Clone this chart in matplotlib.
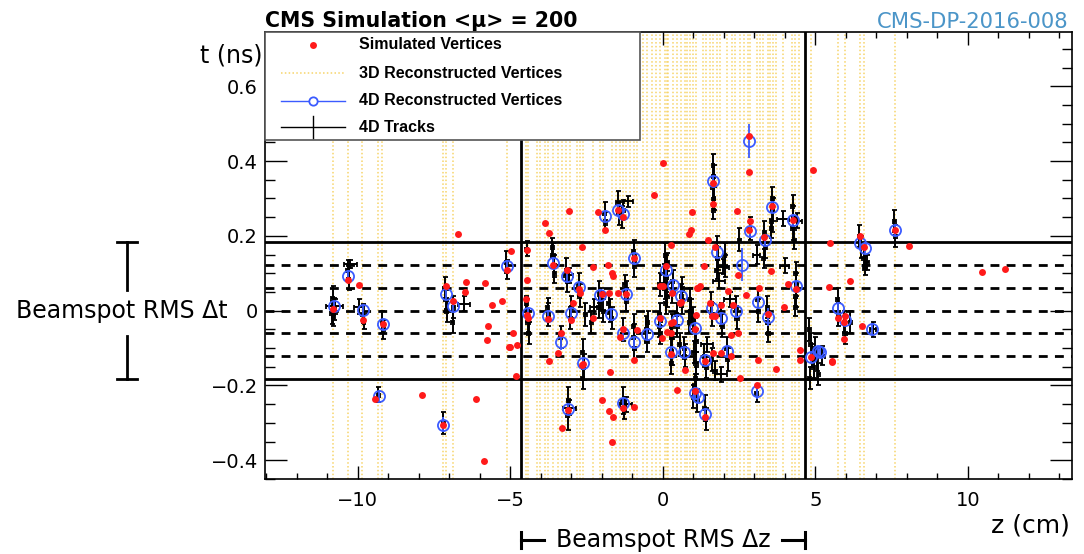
import matplotlib.pyplot as plt
import matplotlib.transforms as mtransforms
import numpy as np
from matplotlib.lines import Line2D
from matplotlib.patches import Rectangle
from matplotlib.ticker import FuncFormatter, MultipleLocator

# simulated vertices: (z [cm], t [ns])
sim_vertices = np.array([
    (-10.80, 0.005), (-10.31, 0.083), (-9.96, 0.068), (-9.82, -0.024), (-9.18, -0.036),
    (-9.43, -0.235), (-7.90, -0.226), (-7.20, -0.305), (-6.12, -0.236), (-5.86, -0.403),
    (-6.70, 0.206), (-7.12, 0.065), (-6.87, 0.025), (-6.46, 0.077), (-6.50, 0.049),
    (-5.83, 0.074), (-5.61, 0.016), (-5.72, -0.042), (-5.77, -0.079), (-5.26, 0.027),
    (-5.12, 0.110), (-4.99, 0.159), (-5.03, -0.097), (-4.79, -0.093), (-4.81, -0.174),
    (-4.46, 0.163), (-4.46, 0.083), (-4.49, 0.030), (-4.41, -0.020), (-4.92, -0.060),
    (-3.86, 0.234), (-3.74, 0.208), (-3.59, 0.122), (-3.76, -0.022), (-3.72, -0.135),
    (-3.09, 0.266), (-2.11, 0.265), (-1.89, 0.217), (-1.46, 0.270), (-1.32, 0.250),
    (-2.64, 0.169), (-3.15, 0.110), (-2.74, 0.058), (-2.72, 0.047), (-2.28, 0.116),
    (-1.79, 0.123), (-1.67, 0.101), (-1.65, 0.092), (-0.94, 0.140), (-2.01, 0.045),
    (-1.77, 0.047), (-1.46, 0.047), (-1.21, 0.045), (0.10, 0.120), (0.30, 0.048),
    (0.59, 0.023), (0.28, 0.176), (-0.10, 0.065), (0.01, 0.065), (1.16, 0.061),
    (-2.94, 0.020), (0.01, 0.395), (-0.28, 0.308), (0.97, 0.263), (0.91, 0.215),
    (0.85, 0.205), (2.83, 0.468), (2.83, 0.371), (4.92, 0.377), (1.65, 0.340),
    (1.63, 0.286), (2.43, 0.266), (2.85, 0.239), (2.82, 0.215), (3.59, 0.280),
    (4.27, 0.243), (3.31, 0.197), (1.72, 0.170), (1.48, 0.190), (2.47, 0.096),
    (1.34, 0.120), (3.56, 0.105), (4.36, 0.058), (6.45, 0.199), (6.60, 0.170),
    (5.49, 0.181), (6.13, 0.078), (5.45, 0.062), (3.15, 0.061), (1.12, 0.061),
    (3.97, 0.009), (7.62, 0.215), (8.07, 0.172), (10.46, 0.103), (11.22, 0.112),
    (5.74, -0.019), (5.96, -0.015), (5.95, -0.030), (5.95, -0.075), (6.54, -0.042),
    (5.53, -0.136), (3.43, -0.008), (2.30, 0.016), (1.92, 0.016), (1.54, 0.020),
    (1.60, -0.013), (1.70, -0.015), (1.10, -0.011), (1.06, -0.050), (2.22, -0.066),
    (2.47, -0.060), (1.39, -0.134), (1.65, -0.113), (1.92, -0.113), (2.24, -0.122),
    (3.12, -0.131), (3.72, -0.155), (2.52, -0.180), (4.84, -0.124), (4.49, -0.104),
    (4.49, -0.131), (5.56, -0.134), (1.04, -0.215), (1.38, -0.284), (3.07, -0.200),
    (-4.44, -0.011), (-3.01, -0.024), (-2.28, -0.020), (-5.01, -0.098), (-3.34, -0.060),
    (-3.45, -0.113), (-2.65, -0.145), (-2.61, -0.142), (-1.30, -0.050), (-1.42, -0.070),
    (-1.74, -0.164), (-0.94, -0.131), (-0.86, -0.053), (-0.10, -0.020), (-0.02, -0.073),
    (0.28, -0.033), (0.34, -0.029), (0.56, 0.020), (0.12, -0.057), (0.28, -0.060),
    (0.28, -0.117), (0.71, -0.158), (0.45, -0.211), (-3.10, -0.265), (-3.30, -0.314),
    (-1.30, -0.260), (-2.01, -0.238), (-1.77, -0.267), (-1.64, -0.283), (-0.95, -0.258),
    (-1.68, -0.352), (1.21, 0.065), (2.74, 0.043), (2.14, 0.052), (4.10, 0.070),
])

# 4D reconstructed vertices: (z, t, sigma_t)
vertices_4d = np.array([
    (-10.78, 0.012, 0.015), (-10.31, 0.094, 0.015), (-9.82, 0.001, 0.015), (-9.18, -0.036, 0.015),
    (-9.30, -0.229, 0.015), (-7.20, -0.305, 0.020), (-7.12, 0.045, 0.015), (-6.87, 0.013, 0.015),
    (-5.12, 0.120, 0.015), (-4.41, -0.006, 0.015), (-3.59, 0.128, 0.015), (-3.76, -0.013, 0.015),
    (-3.15, 0.092, 0.015), (-2.74, 0.062, 0.015), (-3.34, -0.084, 0.020), (-3.01, -0.006, 0.015),
    (-2.61, -0.140, 0.015), (-3.10, -0.262, 0.015), (-2.06, 0.042, 0.015), (-1.89, 0.254, 0.015),
    (-1.46, 0.268, 0.015), (-1.32, 0.259, 0.015), (-1.21, 0.045, 0.015), (-1.70, -0.008, 0.015),
    (-1.30, -0.060, 0.020), (-1.30, -0.247, 0.015), (-0.94, 0.140, 0.015), (-0.94, -0.084, 0.015),
    (-0.53, -0.062, 0.015), (0.10, 0.110, 0.015), (-0.10, -0.027, 0.015), (0.32, 0.068, 0.015),
    (0.61, 0.038, 0.015), (0.45, -0.026, 0.015), (0.28, -0.111, 0.015), (0.70, -0.110, 0.015),
    (1.05, -0.046, 0.015), (1.05, -0.220, 0.015), (1.16, -0.231, 0.015), (1.38, -0.275, 0.015),
    (1.38, -0.131, 0.015), (2.11, -0.109, 0.015), (1.60, 0.007, 0.015), (1.92, -0.020, 0.015),
    (2.41, -0.002, 0.015), (1.65, 0.346, 0.015), (1.78, 0.156, 0.015), (2.60, 0.123, 0.045),
    (2.87, 0.212, 0.015), (2.83, 0.453, 0.045), (3.34, 0.190, 0.015), (3.59, 0.277, 0.015),
    (4.27, 0.243, 0.015), (4.36, 0.065, 0.015), (5.09, -0.109, 0.015), (4.84, -0.124, 0.015),
    (6.45, 0.181, 0.015), (6.62, 0.168, 0.015), (7.60, 0.215, 0.015), (5.74, 0.007, 0.015),
    (5.96, -0.026, 0.015), (6.87, -0.049, 0.015), (3.43, -0.017, 0.025), (3.12, 0.023, 0.015),
    (3.07, -0.216, 0.020), (5.14, -0.111, 0.015),
])

# 4D tracks: (z, t, sigma_z, sigma_t)
tracks_4d = np.array([
    (-10.82, 0.035, 0.05, 0.03), (-10.77, 0.005, 0.06, 0.03), (-10.80, -0.015, 0.04, 0.025),
    (-10.76, 0.012, 0.28, 0.02), (-10.84, -0.005, 0.08, 0.03),
    (-10.33, 0.110, 0.05, 0.025), (-10.29, 0.085, 0.05, 0.03), (-10.24, 0.125, 0.20, 0.01),
    (-9.96, 0.010, 0.15, 0.02), (-9.83, -0.008, 0.05, 0.025), (-9.80, -0.030, 0.04, 0.02),
    (-9.20, -0.030, 0.05, 0.03), (-9.16, -0.050, 0.05, 0.025), (-9.32, -0.225, 0.04, 0.02),
    (-7.20, -0.300, 0.05, 0.03),
    (-7.15, 0.060, 0.05, 0.03), (-7.10, 0.030, 0.06, 0.025), (-7.08, 0.000, 0.05, 0.03),
    (-6.87, 0.010, 0.05, 0.03), (-6.88, -0.030, 0.05, 0.03), (-6.52, 0.019, 0.20, 0.02),
    (-5.13, 0.130, 0.05, 0.03), (-5.10, 0.110, 0.05, 0.025),
    (-4.45, 0.000, 0.05, 0.03), (-4.42, -0.030, 0.05, 0.03), (-4.40, -0.060, 0.05, 0.03),
    (-4.47, 0.020, 0.04, 0.02), (-4.46, 0.165, 0.05, 0.02),
    (-3.60, 0.150, 0.05, 0.03), (-3.58, 0.120, 0.05, 0.03), (-3.62, 0.170, 0.04, 0.025),
    (-3.56, 0.100, 0.05, 0.025), (-3.76, -0.010, 0.05, 0.03), (-3.78, 0.010, 0.04, 0.025),
    (-3.17, 0.110, 0.05, 0.03), (-3.14, 0.080, 0.05, 0.03), (-3.08, 0.095, 0.15, 0.02),
    (-3.34, -0.070, 0.05, 0.03), (-3.00, 0.010, 0.05, 0.03), (-3.03, -0.020, 0.05, 0.03),
    (-2.75, 0.070, 0.05, 0.03), (-2.72, 0.040, 0.05, 0.03),
    (-2.62, -0.110, 0.05, 0.035), (-2.60, -0.150, 0.05, 0.035), (-2.63, -0.180, 0.04, 0.03),
    (-3.10, -0.240, 0.05, 0.035), (-3.12, -0.280, 0.05, 0.04), (-3.06, -0.260, 0.20, 0.02),
    (-2.08, 0.050, 0.05, 0.03), (-2.04, 0.030, 0.05, 0.03), (-2.10, 0.010, 0.05, 0.03),
    (-1.95, 0.000, 0.05, 0.03), (-2.55, -0.010, 0.05, 0.03), (-2.35, -0.030, 0.05, 0.03),
    (-2.25, 0.010, 0.15, 0.02),
    (-1.90, 0.260, 0.05, 0.03), (-1.88, 0.240, 0.05, 0.025),
    (-1.47, 0.290, 0.05, 0.03), (-1.44, 0.260, 0.05, 0.03), (-1.33, 0.250, 0.05, 0.03),
    (-1.30, 0.270, 0.05, 0.025), (-1.13, 0.292, 0.15, 0.015),
    (-1.22, 0.050, 0.05, 0.03), (-1.20, 0.030, 0.05, 0.03), (-1.24, 0.070, 0.05, 0.025),
    (-1.72, 0.000, 0.05, 0.03), (-1.68, -0.020, 0.05, 0.03), (-1.78, 0.020, 0.06, 0.03),
    (-1.30, -0.050, 0.05, 0.03),
    (-1.31, -0.240, 0.05, 0.035), (-1.28, -0.260, 0.05, 0.03), (-1.22, -0.250, 0.20, 0.02),
    (-0.95, 0.160, 0.05, 0.03), (-0.93, 0.120, 0.05, 0.03),
    (-0.95, -0.070, 0.05, 0.035), (-0.93, -0.100, 0.05, 0.03), (-0.96, -0.040, 0.05, 0.03),
    (-0.54, -0.050, 0.05, 0.035), (-0.52, -0.080, 0.05, 0.03), (-0.50, -0.030, 0.05, 0.03),
    (0.08, 0.150, 0.05, 0.03), (0.10, 0.120, 0.05, 0.03), (0.12, 0.090, 0.05, 0.03),
    (0.06, 0.060, 0.05, 0.03), (0.14, 0.040, 0.05, 0.03), (0.10, 0.020, 0.05, 0.03),
    (0.05, 0.100, 0.10, 0.025), (0.15, 0.130, 0.05, 0.025), (-0.10, 0.070, 0.05, 0.03),
    (-0.10, -0.010, 0.05, 0.03), (-0.12, -0.040, 0.05, 0.03), (-0.08, -0.060, 0.05, 0.03),
    (0.33, 0.080, 0.05, 0.03), (0.31, 0.050, 0.05, 0.03), (0.60, 0.040, 0.05, 0.03),
    (0.62, 0.020, 0.05, 0.03), (0.63, 0.060, 0.05, 0.03),
    (0.45, -0.010, 0.05, 0.03), (0.47, -0.040, 0.05, 0.03),
    (0.27, -0.070, 0.05, 0.035), (0.29, -0.110, 0.05, 0.035), (0.28, -0.140, 0.05, 0.03),
    (0.30, -0.040, 0.05, 0.03), (0.70, -0.100, 0.05, 0.03), (0.72, -0.120, 0.05, 0.03),
    (0.55, -0.090, 0.05, 0.03), (0.88, 0.030, 0.05, 0.03), (0.92, 0.000, 0.05, 0.03),
    (0.86, -0.030, 0.05, 0.03),
    (1.00, -0.020, 0.05, 0.03), (1.05, -0.050, 0.05, 0.03), (1.10, -0.080, 0.05, 0.03),
    (1.02, -0.110, 0.05, 0.03), (1.08, -0.140, 0.06, 0.03), (1.05, -0.200, 0.05, 0.03),
    (1.00, -0.230, 0.05, 0.03), (1.12, -0.240, 0.05, 0.03), (1.08, -0.180, 0.05, 0.03),
    (1.38, -0.260, 0.05, 0.035), (1.40, -0.290, 0.05, 0.03),
    (1.35, -0.120, 0.05, 0.03), (1.42, -0.150, 0.05, 0.03), (1.45, -0.090, 0.20, 0.02),
    (1.60, -0.130, 0.05, 0.03), (1.70, -0.160, 0.06, 0.025), (2.10, -0.100, 0.05, 0.03),
    (2.12, -0.130, 0.05, 0.03), (1.90, -0.170, 0.20, 0.02),
    (1.58, 0.020, 0.05, 0.03), (1.62, -0.010, 0.05, 0.03), (1.90, -0.010, 0.05, 0.03),
    (1.94, -0.040, 0.05, 0.03), (2.40, 0.010, 0.05, 0.03), (2.43, -0.020, 0.05, 0.03),
    (2.20, 0.030, 0.20, 0.02),
    (1.64, 0.390, 0.04, 0.03), (1.66, 0.360, 0.05, 0.03), (1.64, 0.330, 0.05, 0.03),
    (1.67, 0.300, 0.04, 0.03), (1.65, 0.270, 0.05, 0.025),
    (1.77, 0.170, 0.05, 0.03), (1.80, 0.140, 0.05, 0.03), (1.76, 0.110, 0.05, 0.025),
    (1.85, 0.080, 0.20, 0.02),
    (2.03, 0.150, 0.05, 0.03), (2.05, 0.120, 0.05, 0.03), (1.97, 0.118, 0.20, 0.02),
    (2.50, 0.190, 0.05, 0.03), (2.84, 0.220, 0.05, 0.03), (3.07, 0.150, 0.10, 0.025),
    (3.33, 0.210, 0.05, 0.03), (3.35, 0.170, 0.05, 0.03), (3.30, 0.140, 0.05, 0.025),
    (3.58, 0.300, 0.05, 0.03), (3.60, 0.270, 0.05, 0.03), (3.57, 0.240, 0.05, 0.03),
    (3.55, 0.220, 0.05, 0.025),
    (4.26, 0.280, 0.05, 0.03), (4.28, 0.250, 0.05, 0.03), (4.25, 0.220, 0.05, 0.03),
    (4.30, 0.190, 0.05, 0.025), (3.94, 0.246, 0.20, 0.02), (4.40, 0.240, 0.15, 0.02),
    (4.35, 0.100, 0.05, 0.03), (4.37, 0.070, 0.05, 0.03), (4.36, 0.040, 0.05, 0.03),
    (4.34, 0.010, 0.05, 0.025), (4.00, 0.120, 0.15, 0.02),
    (4.80, -0.050, 0.05, 0.03), (4.85, -0.090, 0.05, 0.03), (4.90, -0.120, 0.05, 0.03),
    (4.95, -0.150, 0.05, 0.03), (5.00, -0.100, 0.05, 0.03), (5.05, -0.130, 0.05, 0.03),
    (5.10, -0.170, 0.05, 0.03), (4.82, -0.180, 0.05, 0.03), (5.20, -0.120, 0.10, 0.025),
    (6.44, 0.200, 0.05, 0.03), (6.50, 0.170, 0.05, 0.03), (6.58, 0.140, 0.05, 0.03),
    (6.62, 0.120, 0.05, 0.025), (6.70, 0.130, 0.05, 0.02),
    (7.58, 0.240, 0.05, 0.03), (7.62, 0.200, 0.05, 0.03),
    (5.73, 0.030, 0.05, 0.03), (5.75, -0.010, 0.05, 0.03), (5.95, -0.030, 0.05, 0.03),
    (5.97, -0.060, 0.05, 0.03), (6.15, -0.030, 0.05, 0.03), (6.88, -0.050, 0.10, 0.02),
    (3.42, 0.010, 0.05, 0.03), (3.44, -0.030, 0.05, 0.03), (3.45, -0.060, 0.05, 0.025),
    (3.11, 0.030, 0.05, 0.03), (3.13, 0.000, 0.05, 0.03), (3.07, -0.220, 0.05, 0.025),
])

# z positions of 3D reconstructed vertices
z_3d = [
    -10.80, -10.31, -9.85, -9.35, -9.20, -7.20, -7.10, -6.87, -5.12, -4.47, -4.41,
    -4.14, -4.03, -3.86, -3.76, -3.59, -3.43, -3.32, -3.16, -3.05, -2.83, -2.72,
    -2.61, -2.28, -2.06, -1.95, -1.68, -1.52, -1.41, -1.32, -1.21, -1.08, -0.94,
    -0.86, -0.64, -0.53, -0.34, -0.21, -0.10, 0.07, 0.12, 0.17, 0.34, 0.45, 0.61,
    0.72, 0.78, 0.88, 0.99, 1.10, 1.32, 1.43, 1.54, 1.65, 1.76, 1.87, 2.09, 2.25,
    2.36, 2.52, 2.65, 2.79, 2.87, 3.07, 3.20, 3.29, 3.43, 3.50, 3.60, 3.72, 3.95,
    4.22, 4.32, 4.45, 4.87, 5.74, 5.96, 6.45, 6.59, 7.60,
]

# beamspot RMS in z (cm) and t (ns)
bs_rms_z = 4.65
bs_rms_t = 0.183
t_slices = [-0.122, -0.061, 0.0, 0.061, 0.122]

c_sim = "#ff1a1a"
c_4d = "#3b5bff"
c_3d = "#f7d46a"
c_ref = "#4b95c8"

plt.rcParams["font.family"] = ["DejaVu Sans"]

fig = plt.figure(figsize=(10.84, 5.54), dpi=100)
ax = fig.add_axes([265 / 1084, 1 - 479 / 554, 807 / 1084, 447 / 554])
ax.set_xlim(-13.04, 13.41)
ax.set_ylim(-0.45, 0.745)

for z in z_3d:
    ax.axvline(z, color=c_3d, lw=1.1, ls=(0, (1, 1.5)), zorder=1)

for t in t_slices:
    ax.axhline(t, color="black", lw=2.0, ls=(0, (3.2, 2.6)), zorder=2)
ax.axhline(bs_rms_t, color="black", lw=2.0, zorder=2)
ax.axhline(-bs_rms_t, color="black", lw=2.0, zorder=2)
ax.axvline(bs_rms_z, color="black", lw=2.0, zorder=2)
ax.axvline(-bs_rms_z, color="black", lw=2.0, zorder=2)

ax.errorbar(tracks_4d[:, 0], tracks_4d[:, 1], xerr=tracks_4d[:, 2], yerr=tracks_4d[:, 3],
            fmt="none", ecolor="black", elinewidth=1.4, capsize=1.8, capthick=1.3, zorder=3)
ax.errorbar(vertices_4d[:, 0], vertices_4d[:, 1], yerr=vertices_4d[:, 2], fmt="o",
            mfc="none", mec=c_4d, ecolor=c_4d, ms=8, mew=1.3, elinewidth=1.3, zorder=4)
ax.plot(sim_vertices[:, 0], sim_vertices[:, 1], "o", color=c_sim, ms=5, mew=0, zorder=5)

# axis cosmetics (ROOT style: inward ticks on all sides)
ax.xaxis.set_major_locator(MultipleLocator(5))
ax.xaxis.set_minor_locator(MultipleLocator(1))
ax.yaxis.set_major_locator(MultipleLocator(0.2))
ax.yaxis.set_minor_locator(MultipleLocator(0.05))
fmt = FuncFormatter(lambda v, _: f"{v:g}".replace("-", "\u2212"))
ax.xaxis.set_major_formatter(fmt)
ax.yaxis.set_major_formatter(fmt)
ax.tick_params(axis="both", which="both", direction="in", top=True, right=True, width=1.0)
ax.tick_params(axis="x", which="major", length=9.5, labelsize=14, pad=9)
ax.tick_params(axis="x", which="minor", length=4.5)
ax.tick_params(axis="y", which="major", length=16, labelsize=14, pad=5)
ax.tick_params(axis="y", which="minor", length=7.5)
for sp in ax.spines.values():
    sp.set_linewidth(1.2)

# legend box drawn in axes coordinates
leg_kw = dict(transform=ax.transAxes, clip_on=False, zorder=11)
ax.add_patch(Rectangle((0, 0.758), 0.4647, 0.242, transform=ax.transAxes,
                       facecolor="white", edgecolor="#555555", lw=1.2, zorder=10, clip_on=False))
rows = [0.971, 0.908, 0.846, 0.787]
x0, x1, xm, xt = 0.0195, 0.099, 0.059, 0.1165
ax.add_line(Line2D([xm], [rows[0]], marker="o", ls="none", color=c_sim, ms=5, mew=0, **leg_kw))
ax.add_line(Line2D([x0, x1], [rows[1]] * 2, color=c_3d, lw=1.1, ls=(0, (1, 1.5)), **leg_kw))
ax.add_line(Line2D([x0, x1], [rows[2]] * 2, color=c_4d, lw=1.0, **leg_kw))
ax.add_line(Line2D([xm], [rows[2]], marker="o", mfc="white", mec=c_4d, ms=6, mew=1.3, **leg_kw))
ax.add_line(Line2D([x0, x1], [rows[3]] * 2, color="black", lw=1.0, **leg_kw))
ax.add_line(Line2D([xm, xm], [rows[3] - 0.025, rows[3] + 0.025], color="black", lw=1.0, **leg_kw))
labels = ["Simulated Vertices", "3D Reconstructed Vertices",
          "4D Reconstructed Vertices", "4D Tracks"]
for y, lab in zip(rows, labels):
    ax.text(xt, y, lab, transform=ax.transAxes, fontsize=11.5, fontweight="bold",
            family="Liberation Sans", va="center", ha="left", zorder=12)

# titles and axis labels
fig.text(265 / 1084, 1 - 27 / 554, "CMS Simulation <\u03bc> = 200", fontsize=14.8,
         fontweight="bold", ha="left", va="baseline")
fig.text(1069 / 1084, 1 - 28 / 554, "CMS-DP-2016-008", fontsize=15.2, color=c_ref,
         ha="right", va="baseline")
fig.text(262 / 1084, 1 - 55 / 554, "t (ns)", fontsize=17, ha="right", va="center")
fig.text(1070 / 1084, 1 - 525 / 554, "z (cm)", fontsize=18, ha="right", va="center")

# beamspot spread markers
bt = mtransforms.blended_transform_factory(ax.transAxes, ax.transData)
mx = -0.171
ax.plot([mx, mx], [bs_rms_t, 0.056], color="black", lw=2.0, transform=bt, clip_on=False)
ax.plot([mx - 0.012, mx + 0.012], [bs_rms_t] * 2, color="black", lw=2.0, transform=bt, clip_on=False)
ax.plot([mx, mx], [-bs_rms_t, -0.069], color="black", lw=2.0, transform=bt, clip_on=False)
ax.plot([mx - 0.012, mx + 0.012], [-bs_rms_t] * 2, color="black", lw=2.0, transform=bt, clip_on=False)
ax.text(mx - 0.006, 0, "Beamspot RMS \u0394t", transform=bt, fontsize=17,
        ha="center", va="center")

bz = mtransforms.blended_transform_factory(ax.transData, ax.transAxes)
my = -0.1365
ax.plot([-bs_rms_z, -bs_rms_z], [my - 0.018, my + 0.018], color="black", lw=2.2, transform=bz, clip_on=False)
ax.plot([-bs_rms_z, -3.9], [my, my], color="black", lw=2.2, transform=bz, clip_on=False)
ax.plot([bs_rms_z, bs_rms_z], [my - 0.018, my + 0.018], color="black", lw=2.2, transform=bz, clip_on=False)
ax.plot([3.9, bs_rms_z], [my, my], color="black", lw=2.2, transform=bz, clip_on=False)
ax.text(0, my, "Beamspot RMS \u0394z", transform=bz, fontsize=17, ha="center", va="center")

fig.savefig("out.png", dpi=100)
